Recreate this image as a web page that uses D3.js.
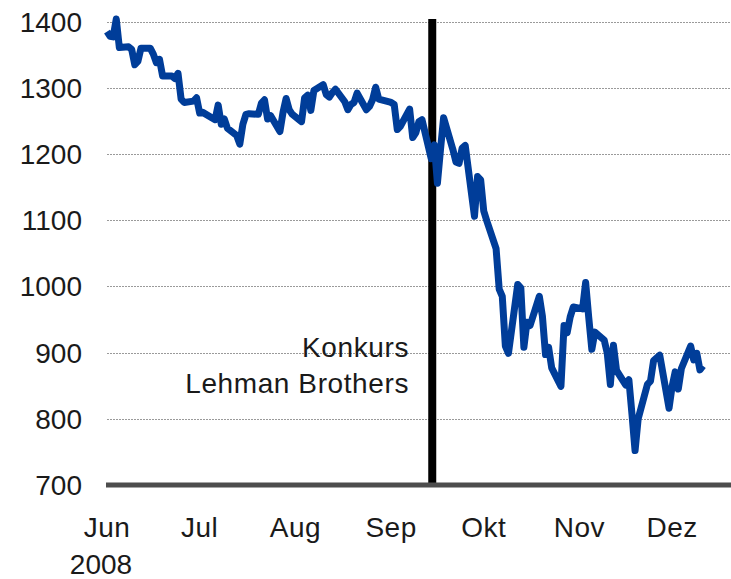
<!DOCTYPE html>
<html>
<head>
<meta charset="utf-8">
<script src="https://cdn.jsdelivr.net/npm/d3@7"></script>
<style>
  body { margin: 0; background: #fff; }
  text { font-family: "Liberation Sans", Arial, sans-serif; fill: #1a1a1a; font-size: 28px; }
</style>
</head>
<body>
<div class="chart"></div>
<script>
// DATA ------------------------------------
const dates = [
  "2008-06-02","2008-06-03","2008-06-04","2008-06-05","2008-06-06","2008-06-09","2008-06-10","2008-06-11","2008-06-12","2008-06-13",
  "2008-06-16","2008-06-17","2008-06-18","2008-06-19","2008-06-20","2008-06-23","2008-06-24","2008-06-25","2008-06-26","2008-06-27",
  "2008-06-30","2008-07-01","2008-07-02","2008-07-03","2008-07-07","2008-07-08","2008-07-09","2008-07-10","2008-07-11","2008-07-14",
  "2008-07-15","2008-07-16","2008-07-17","2008-07-18","2008-07-21","2008-07-22","2008-07-23","2008-07-24","2008-07-25","2008-07-28",
  "2008-07-29","2008-07-30","2008-07-31","2008-08-01","2008-08-04","2008-08-05","2008-08-06","2008-08-07","2008-08-08","2008-08-11",
  "2008-08-12","2008-08-13","2008-08-14","2008-08-15","2008-08-18","2008-08-19","2008-08-20","2008-08-21","2008-08-22","2008-08-25",
  "2008-08-26","2008-08-27","2008-08-28","2008-08-29","2008-09-02","2008-09-03","2008-09-04","2008-09-05","2008-09-08","2008-09-09",
  "2008-09-10","2008-09-11","2008-09-12","2008-09-15","2008-09-16","2008-09-17","2008-09-18","2008-09-19","2008-09-22","2008-09-23",
  "2008-09-24","2008-09-25","2008-09-26","2008-09-29","2008-09-30","2008-10-01","2008-10-02","2008-10-03","2008-10-06","2008-10-07",
  "2008-10-08","2008-10-09","2008-10-10","2008-10-13","2008-10-14","2008-10-15","2008-10-16","2008-10-17","2008-10-20","2008-10-21",
  "2008-10-22","2008-10-23","2008-10-24","2008-10-27","2008-10-28","2008-10-29","2008-10-30","2008-10-31","2008-11-03","2008-11-04",
  "2008-11-05","2008-11-06","2008-11-07","2008-11-10","2008-11-11","2008-11-12","2008-11-13","2008-11-14","2008-11-17","2008-11-18",
  "2008-11-19","2008-11-20","2008-11-21","2008-11-24","2008-11-25","2008-11-26","2008-11-28","2008-12-01","2008-12-02","2008-12-03",
  "2008-12-04","2008-12-05","2008-12-08","2008-12-09","2008-12-10","2008-12-11","2008-12-12"
];
const values = [
  1385,1378,1377,1404,1361,1362,1358,1335,1340,1360,
  1360,1351,1338,1343,1318,1318,1314,1322,1283,1278,
  1280,1285,1262,1263,1252,1274,1245,1253,1239,1228,
  1215,1245,1260,1261,1260,1277,1282,1253,1258,1234,
  1263,1284,1267,1260,1249,1285,1289,1266,1296,1305,
  1290,1286,1293,1298,1279,1267,1275,1278,1292,1267,
  1272,1282,1301,1283,1278,1275,1237,1242,1268,1225,
  1232,1249,1252,1193,1214,1156,1207,1255,1207,1188,
  1186,1209,1213,1106,1166,1161,1114,1099,1057,996,
  985,910,899,1003,998,908,946,941,985,955,
  897,908,877,849,941,930,954,969,966,1006,
  953,905,931,919,899,852,911,873,851,859,
  807,752,800,852,857,888,896,816,849,871,
  845,876,910,889,899,874,880
];
const yTicks = [700, 800, 900, 1000, 1100, 1200, 1300, 1400];
const monthTicks = ["2008-06-02","2008-07-02","2008-08-02","2008-09-02","2008-10-02","2008-11-02","2008-12-02"];
const monthLabels = ["Jun", "Jul", "Aug", "Sep", "Okt", "Nov", "Dez"];
const eventDate = "2008-09-15";
const eventLabel = ["Konkurs", "Lehman Brothers"];

// CHART INIT ------------------------------
const width = 731, height = 579;
const parse = d3.timeParse("%Y-%m-%d");
const data = dates.map((d, i) => ({date: parse(d), value: values[i]}));

const svg = d3.select(".chart").append("svg")
    .attr("width", width)
    .attr("height", height);

const x = d3.scaleTime()
    .domain([parse("2008-06-02"), parse("2008-12-12")])
    .range([107, 703]);

const y = d3.scaleLinear()
    .domain([700, 1400])
    .range([485, 21.7]);

// gridlines
svg.append("g")
    .selectAll("line")
    .data(yTicks.slice(1))
    .join("line")
    .attr("x1", 107)
    .attr("x2", width)
    .attr("y1", d => Math.round(y(d)) + 0.5)
    .attr("y2", d => Math.round(y(d)) + 0.5)
    .attr("stroke", "#9a9a9a")
    .attr("stroke-width", 1)
    .attr("stroke-dasharray", "2,1");

// y labels
svg.append("g")
    .selectAll("text")
    .data(yTicks)
    .join("text")
    .attr("x", 82)
    .attr("y", d => y(d) + 10)
    .attr("text-anchor", "end")
    .text(d => d);

// x labels
svg.append("g")
    .selectAll("text")
    .data(monthTicks)
    .join("text")
    .attr("x", d => x(parse(d)))
    .attr("y", 537)
    .attr("text-anchor", "middle")
    .style("letter-spacing", "0.5px")
    .text((d, i) => monthLabels[i]);

svg.append("text")
    .attr("x", x(parse(monthTicks[0])) - 6)
    .attr("y", 574)
    .attr("text-anchor", "middle")
    .text("2008");

// Lehman line
svg.append("line")
    .attr("x1", x(parse(eventDate)) + 1)
    .attr("x2", x(parse(eventDate)) + 1)
    .attr("y1", 19)
    .attr("y2", 485)
    .attr("stroke", "#000")
    .attr("stroke-width", 8);

svg.append("g")
    .selectAll("text")
    .data(eventLabel)
    .join("text")
    .attr("x", 409)
    .attr("y", (d, i) => 357 + i * 36)
    .attr("text-anchor", "end")
    .style("letter-spacing", "0.6px")
    .text(d => d);

// baseline
svg.append("line")
    .attr("x1", 106)
    .attr("x2", width)
    .attr("y1", y(700))
    .attr("y2", y(700))
    .attr("stroke", "#4d4d4d")
    .attr("stroke-width", 5);

// index line
const line = d3.line()
    .x(d => x(d.date))
    .y(d => y(d.value));

svg.append("path")
    .datum(data)
    .attr("d", line)
    .attr("fill", "none")
    .attr("stroke", "#003d99")
    .attr("stroke-width", 7)
    .attr("stroke-linejoin", "round");
</script>
</body>
</html>
